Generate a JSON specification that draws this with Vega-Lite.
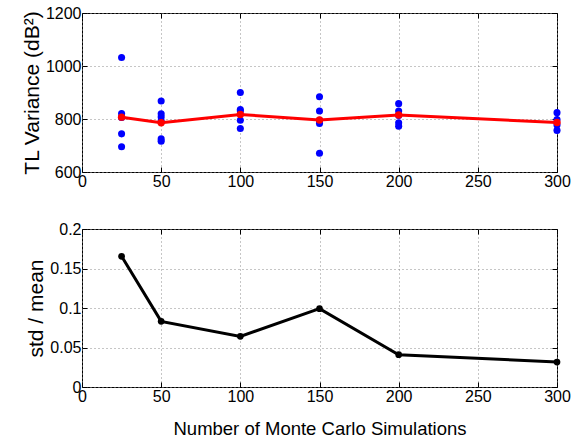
{
  "$schema": "https://vega.github.io/schema/vega-lite/v6.json",
  "background": "white",
  "padding": {"left": 20, "top": 4, "right": 1, "bottom": 2},
  "datasets": {
    "runs": [
      {"n": 25, "v": 1032}, {"n": 25, "v": 821}, {"n": 25, "v": 806}, {"n": 25, "v": 744}, {"n": 25, "v": 695},
      {"n": 50, "v": 868}, {"n": 50, "v": 820}, {"n": 50, "v": 808}, {"n": 50, "v": 792}, {"n": 50, "v": 725}, {"n": 50, "v": 716},
      {"n": 100, "v": 900}, {"n": 100, "v": 836}, {"n": 100, "v": 830}, {"n": 100, "v": 795}, {"n": 100, "v": 764},
      {"n": 150, "v": 884}, {"n": 150, "v": 830}, {"n": 150, "v": 795}, {"n": 150, "v": 783}, {"n": 150, "v": 671},
      {"n": 200, "v": 858}, {"n": 200, "v": 830}, {"n": 200, "v": 813}, {"n": 200, "v": 786}, {"n": 200, "v": 773},
      {"n": 300, "v": 824}, {"n": 300, "v": 798}, {"n": 300, "v": 777}, {"n": 300, "v": 757}
    ],
    "means": [
      {"n": 25, "m": 807}, {"n": 50, "m": 786}, {"n": 100, "m": 817},
      {"n": 150, "m": 796}, {"n": 200, "m": 815}, {"n": 300, "m": 787}
    ],
    "ratio": [
      {"n": 25, "r": 0.1654}, {"n": 50, "r": 0.0831}, {"n": 100, "r": 0.0641},
      {"n": 150, "r": 0.0992}, {"n": 200, "r": 0.0409}, {"n": 300, "r": 0.0316}
    ]
  },
  "config": {
    "font": "Liberation Sans",
    "view": {"stroke": "black", "strokeWidth": 1},
    "axis": {
      "domain": false,
      "grid": true,
      "gridColor": "#8c8c8c",
      "gridDash": [1, 3],
      "gridOpacity": 1,
      "tickColor": "black",
      "tickSize": -5,
      "labelFont": "Liberation Sans",
      "labelFontSize": 16,
      "labelColor": "black",
      "labelPadding": 6,
      "labelOverlap": false,
      "labelFlush": false,
      "titleFont": "Liberation Sans",
      "titleFontSize": 21,
      "titleFontWeight": "normal",
      "titleColor": "black"
    }
  },
  "spacing": 30,
  "vconcat": [
    {
      "width": 475,
      "height": 159,
      "resolve": {"axis": {"x": "independent", "y": "independent"}},
      "layer": [
        {
          "data": {"name": "runs"},
          "mark": {"type": "point", "filled": true, "color": "#0000ff", "opacity": 1, "size": 50},
          "encoding": {
            "x": {"field": "n", "type": "quantitative", "scale": {"domain": [0, 300], "nice": false},
                  "axis": {"values": [0, 50, 100, 150, 200, 250, 300], "title": null, "labelPadding": 6}},
            "y": {"field": "v", "type": "quantitative", "scale": {"domain": [600, 1200], "nice": false},
                  "axis": {"values": [600, 800, 1000, 1200], "format": "d", "title": "TL Variance (dB²)", "titlePadding": 3}}
          }
        },
        {
          "data": {"name": "means"},
          "mark": {"type": "line", "color": "#ff0000", "strokeWidth": 3},
          "encoding": {
            "x": {"field": "n", "type": "quantitative",
                  "axis": {"orient": "top", "values": [0, 50, 100, 150, 200, 250, 300], "labels": false, "grid": false, "title": null}},
            "y": {"field": "m", "type": "quantitative",
                  "axis": {"orient": "right", "values": [600, 800, 1000, 1200], "labels": false, "grid": false, "title": null}}
          }
        },
        {
          "data": {"name": "means"},
          "mark": {"type": "point", "filled": true, "color": "#ff0000", "opacity": 1, "size": 55},
          "encoding": {
            "x": {"field": "n", "type": "quantitative", "axis": null},
            "y": {"field": "m", "type": "quantitative", "axis": null}
          }
        }
      ]
    },
    {
      "width": 475,
      "height": 158,
      "data": {"name": "ratio"},
      "resolve": {"axis": {"x": "independent", "y": "independent"}},
      "layer": [
        {
          "mark": {"type": "line", "color": "black", "strokeWidth": 3},
          "encoding": {
            "x": {"field": "n", "type": "quantitative", "scale": {"domain": [0, 300], "nice": false},
                  "axis": {"values": [0, 50, 100, 150, 200, 250, 300], "title": "Number of Monte Carlo Simulations", "labelPadding": 6, "titlePadding": 15, "titleFontSize": 18.5}},
            "y": {"field": "r", "type": "quantitative", "scale": {"domain": [0, 0.2], "nice": false},
                  "axis": {"values": [0, 0.05, 0.1, 0.15, 0.2], "format": "~g", "title": "std / mean", "titlePadding": 3}}
          }
        },
        {
          "mark": {"type": "point", "filled": true, "color": "black", "opacity": 1, "size": 45},
          "encoding": {
            "x": {"field": "n", "type": "quantitative",
                  "axis": {"orient": "top", "values": [0, 50, 100, 150, 200, 250, 300], "labels": false, "grid": false, "title": null}},
            "y": {"field": "r", "type": "quantitative",
                  "axis": {"orient": "right", "values": [0, 0.05, 0.1, 0.15, 0.2], "labels": false, "grid": false, "title": null}}
          }
        }
      ]
    }
  ]
}
